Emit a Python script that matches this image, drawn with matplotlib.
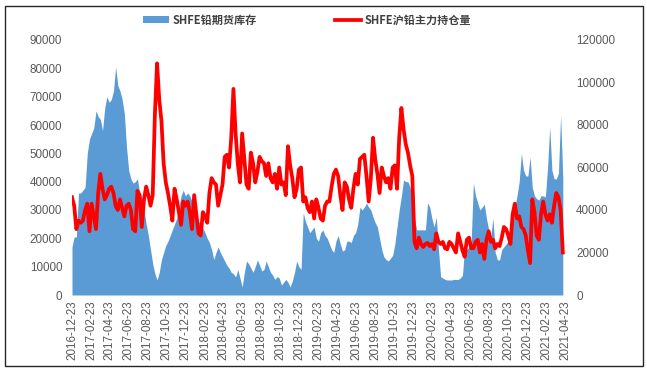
import matplotlib
matplotlib.use("Agg")
import matplotlib.pyplot as plt
import pandas as pd
from matplotlib.patches import Patch, Rectangle
from matplotlib.lines import Line2D

start_date = "2016-12-23"
n_weeks = 226

inventory = [
    17000, 20500, 20500, 36000, 36000, 37000, 38000, 50000, 55000, 57000,
    59000, 65000, 63000, 62000, 58000, 66000, 70000, 68000, 69000, 72000,
    80500, 74000, 72000, 69000, 64000, 52000, 44000, 41000, 39500, 40000,
    41000, 36000, 34000, 30000, 25000, 21000, 16000, 11000, 7500, 5300,
    8000, 12500, 15000, 17500, 19000, 21000, 23000, 25000, 27000, 31000,
    35000, 37000, 35000, 36000, 35000, 33000, 30000, 28000, 26000, 25000,
    23500, 22000, 20000, 18500, 16000, 12500, 15000, 17000, 15000, 13500,
    12000, 10500, 9500, 8000, 7500, 6400, 9000, 6000, 2800, 8000,
    12000, 11000, 9500, 8000, 10000, 12400, 10500, 8500, 9000, 12000,
    10000, 8000, 7000, 5500, 6500, 6000, 3500, 4500, 5500, 4500,
    2800, 5000, 8000, 12000, 10000, 9000, 29000, 26000, 24000, 22000,
    23000, 24000, 20000, 19000, 22000, 23000, 21000, 20000, 18000, 16000,
    15000, 19000, 21000, 18000, 15500, 16000, 19000, 19000, 18500, 21000,
    22000, 25000, 31000, 30000, 31000, 32500, 31000, 30000, 27500, 25500,
    24000, 20000, 16000, 13400, 12500, 12000, 13000, 14000, 18000, 24000,
    30000, 35000, 40600, 40000, 40000, 38000, 32000, 27000, 23000, 23000,
    23000, 23000, 23000, 32500, 31000, 27000, 24000, 27500, 16000, 6400,
    6000, 5500, 5300, 5300, 5300, 5500, 5500, 5500, 6000, 7000,
    17000, 16000, 17000, 19000, 39500, 35000, 32500, 30000, 31000, 32000,
    27000, 23000, 21000, 27000, 15000, 12400, 12400, 16000, 17000, 18000,
    19000, 24000, 28000, 31000, 35000, 40000, 50000, 44000, 42000, 42000,
    48700, 38000, 35000, 34000, 33500, 35000, 35000, 34600, 45000, 59300,
    44000, 41000, 41000, 43000, 63500, 41000,
]

open_interest = [
    46000, 42000, 31000, 35000, 34000, 35000, 40000, 43000, 30000, 43000,
    37000, 31000, 48000, 57000, 50000, 45000, 47000, 50000, 51000, 48000,
    42000, 40000, 45000, 41000, 37000, 42000, 43000, 40000, 31000, 30000,
    49000, 47000, 32000, 45000, 51000, 47000, 42000, 47000, 85000, 109000,
    92000, 82000, 62000, 53000, 48000, 42000, 35000, 50000, 45000, 39000,
    33000, 44000, 42000, 44000, 39000, 31000, 47000, 38000, 29000, 28000,
    39000, 37000, 34000, 48000, 55000, 53000, 52000, 42000, 47000, 52000,
    65000, 66000, 60000, 74000, 97000, 76000, 62000, 53000, 76000, 64000,
    52000, 50000, 67000, 62000, 53000, 58000, 65000, 63000, 62000, 56000,
    62000, 55000, 53000, 57000, 50000, 60000, 52000, 53000, 47000, 70000,
    61000, 55000, 46000, 50000, 59000, 60000, 44000, 46000, 41000, 39000,
    44000, 36000, 45000, 41000, 36000, 35000, 42000, 44000, 44000, 51000,
    57000, 59000, 56000, 47000, 40000, 53000, 51000, 45000, 41000, 50000,
    57000, 52000, 64000, 65000, 66000, 56000, 44000, 55000, 74000, 64000,
    57000, 48000, 60000, 56000, 53000, 55000, 50000, 60000, 61000, 50000,
    74000, 88000, 78000, 71000, 67000, 61000, 56000, 25000, 22000, 27000,
    24000, 22600, 24000, 24500, 23000, 24000, 21500, 29000, 25000, 24000,
    25000, 22000, 21500, 25000, 24000, 22000, 20000, 29000, 25000, 21000,
    18000, 26000, 27000, 22000, 22000, 25000, 26000, 20000, 24000, 17000,
    26000, 30000, 25000, 26000, 22000, 24000, 23000, 27000, 32000, 31000,
    28000, 24000, 38000, 43000, 36000, 37000, 32000, 31000, 28000, 21000,
    15000, 45000, 39000, 28000, 26000, 38000, 44000, 38000, 35000, 38000,
    34000, 42000, 48000, 46000, 40000, 20000,
]

tick_labels = [
    "2016-12-23", "2017-02-23", "2017-04-23", "2017-06-23", "2017-08-23",
    "2017-10-23", "2017-12-23", "2018-02-23", "2018-04-23", "2018-06-23",
    "2018-08-23", "2018-10-23", "2018-12-23", "2019-02-23", "2019-04-23",
    "2019-06-23", "2019-08-23", "2019-10-23", "2019-12-23", "2020-02-23",
    "2020-04-23", "2020-06-23", "2020-08-23", "2020-10-23", "2020-12-23",
    "2021-02-23", "2021-04-23",
]
left_ticks = [0, 10000, 20000, 30000, 40000, 50000, 60000, 70000, 80000, 90000]
right_ticks = [0, 20000, 40000, 60000, 80000, 100000, 120000]

series_names = ["SHFE铅期货库存", "SHFE沪铅主力持仓量"]

dates = pd.date_range(start_date, periods=n_weeks, freq="7D")
tick_dates = pd.to_datetime(tick_labels)

W, H = 647, 370
fig = plt.figure(figsize=(W / 100, H / 100), dpi=100)
ax = fig.add_axes([72 / W, 1 - 295 / H, (565 - 72) / W, (295 - 40) / H])

BLUE = "#5B9BD5"
RED = "#FF0000"
GRAY = "#595959"
tick_font = dict(family="Liberation Sans", size=8.4)

ax.fill_between(dates, inventory, 0, color=BLUE, lw=0)
ax.set_ylim(0, 90000)
ax.set_xlim(tick_dates[0], tick_dates[-1])
ax.set_yticks(left_ticks)
ax.set_yticklabels([str(v) for v in left_ticks], color=GRAY, **tick_font)
ax.set_xticks(tick_dates)
ax.set_xticklabels(tick_labels, rotation=90, color=GRAY, **tick_font)
ax.tick_params(axis="both", length=0)
ax.tick_params(axis="y", pad=7)
ax.tick_params(axis="x", pad=4)
for s in ax.spines.values():
    s.set_visible(False)

ax2 = ax.twinx()
ax2.plot(dates, open_interest, color=RED, lw=2.7, solid_joinstyle="round")
ax2.set_ylim(0, 120000)
ax2.set_yticks(right_ticks)
ax2.set_yticklabels([str(v) for v in right_ticks], color=GRAY, **tick_font)
ax2.tick_params(axis="y", length=0, pad=8)
ax2.set_xlim(tick_dates[0], tick_dates[-1])
for s in ax2.spines.values():
    s.set_visible(False)

handles = [Patch(facecolor=BLUE, edgecolor="none"),
           Line2D([0], [0], color=RED, lw=2.7)]
leg = fig.legend(handles, series_names, loc="center", ncol=2,
                 bbox_to_anchor=(307 / W, 1 - 20 / H), frameon=False,
                 prop=dict(family=["Noto Sans CJK SC", "DejaVu Sans"], size=8, weight="bold"),
                 handlelength=2.4, handleheight=0.6, handletextpad=0.3,
                 columnspacing=7.0, labelcolor="#404040")

fig.patches.append(Rectangle((5 / W, 1 - 366 / H), (643 - 5) / W, (366 - 6) / H,
                             transform=fig.transFigure, fill=False,
                             edgecolor="#262626", lw=1.0))

fig.savefig("out.png", dpi=100)
